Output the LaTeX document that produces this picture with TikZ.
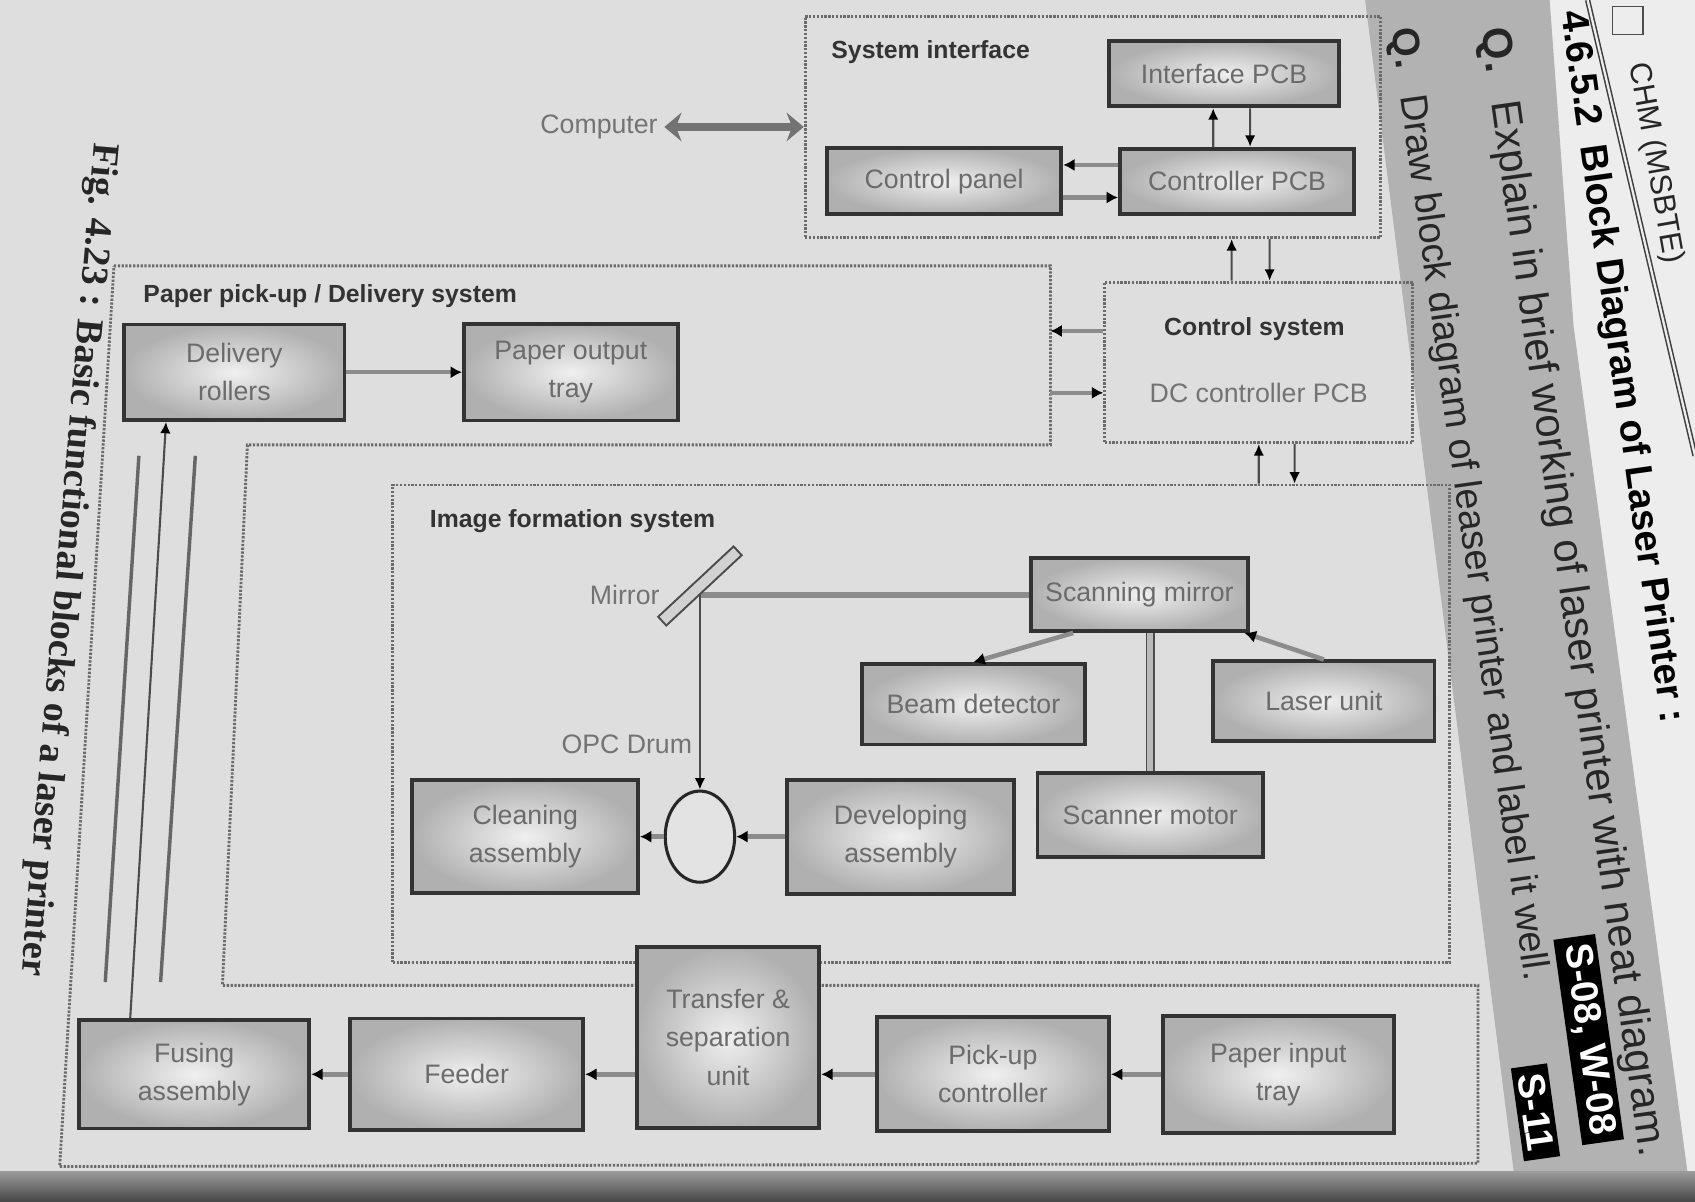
\documentclass[tikz,border=0pt]{standalone}
\usepackage{fontspec}
\setmainfont{Liberation Sans}
\newfontfamily\capfont{Liberation Serif}
\usetikzlibrary{arrows.meta,shapes.geometric,shadings}

\tikzset{
  blk/.style={draw=black!80, line width=2pt, inner color=gray!12, outer color=gray!62,
    text=black!58, align=center, font=\fontsize{14}{20}\selectfont},
  frm/.style={draw=black!58, line width=1.5pt, dash pattern=on 1.2pt off 0.8pt},
  ttl/.style={text=black!80, font=\bfseries\fontsize{13}{15}\selectfont},
  lbl/.style={text=black!55, font=\fontsize{14}{16}\selectfont},
  link/.style={draw=black!45, line width=2.4pt, -{Latex[length=6pt,width=6.5pt,color=black]}},
  sig/.style={draw=black!70, line width=1.1pt, -{Latex[length=6pt,width=5.5pt,color=black]}},
  beam/.style={draw=black!45, line width=3pt},
  shaft/.style={draw=black!70, line width=0.9pt, double=gray!55, double distance=3pt},
  bus/.style={draw=black!55, line width=4pt, {Stealth[length=9pt,width=15pt]}-{Stealth[length=9pt,width=15pt]}},
  paperline/.style={draw=black!60, line width=1.8pt},
  drm/.style={ellipse, draw=black!85, line width=1.6pt, fill=black!11, minimum width=1.28cm, minimum height=1.68cm},
  mirr/.style={draw=black!70, fill=gray!35, line width=1pt, minimum width=1.9cm, minimum height=0.22cm, inner sep=0pt},
  side/.style={text=black!85, font=\fontsize{16}{16}\selectfont},
  head/.style={text=black, font=\bfseries\fontsize{20}{20}\selectfont},
  qtext/.style={text=black!85, font=\fontsize{#1}{#1}\selectfont},
  badge/.style={fill=black, text=white, inner xsep=4pt, inner ysep=2.5pt, font=\bfseries\fontsize{20}{20}\selectfont},
  figcap/.style={text=black!85, font=\capfont\bfseries\fontsize{20}{20}\selectfont}
}

\begin{document}
\begin{tikzpicture}[x=0.2mm,y=-0.2mm]
\useasboundingbox (0,0) rectangle (1562,1107);
% page
\fill[black!13] (0,0) rectangle (1562,1107);
\fill[black!7] (1428,0) -- (1562,0) -- (1562,1080) -- (1555,1080) -- (1450,300) -- cycle;
\fill[black!30] (1258,0) -- (1428,0) -- (1450,300) -- (1555,1080) -- (1395,1080) -- cycle;
\shade[top color=black!40, bottom color=black!72] (0,1080) rectangle (1562,1107);
\draw[black!75, line width=0.8pt, double=black!7, double distance=1.2pt] (1463,0) -- (1562,420);
\draw[black!70, line width=0.8pt] (1486,6) rectangle (1514,32);

% page text
\node[side, rotate=-80, anchor=west] (chm) at (1508,52) {CHM (MSBTE)};
\node[head, rotate=-82, anchor=west] (head) at (1447,4) {4.6.5.2\hspace{0.5em}Block Diagram of Laser Printer :};
\node[qtext=22, rotate=-82, anchor=west] (q1) at (1374,20) {\textbf{Q.}\hspace{0.7em}Explain in brief working of laser printer with neat diagram.};
\node[qtext=20, rotate=-82, anchor=west] (q2) at (1290,20) {\textbf{Q.}\hspace{0.7em}Draw block diagram of leaser printer and label it well.};
\node[badge, rotate=-82] (b1) at (1464,958) {S-08, W-08};
\node[badge, rotate=-82] (b2) at (1415,1025) {S-11};
\node[figcap, rotate=-95, anchor=west] (fig) at (96,126) {Fig. 4.23 : Basic functional blocks of a laser printer};

% frames
\node[frm, minimum width=10.6cm, minimum height=4.08cm] (sysif) at (1007,117) {};
\node[frm, minimum width=5.68cm, minimum height=2.96cm] (ctrl) at (1160,334) {};
\node[frm, minimum width=19.48cm, minimum height=8.8cm] (imgf) at (849,667) {};
\draw[frm] (105,245) -- (968,245) -- (968,410) -- (228,410) -- (205,908) -- (1362,908) -- (1362,1072) -- (55,1075) -- cycle;
\coordinate (pfr) at (968,334);

\node[ttl, anchor=west] (sysif-t) at (760,48) {System interface};
\node[ttl, anchor=west] (paper-t) at (126,273) {Paper pick-up / Delivery system};
\node[ttl, anchor=west] (imgf-t) at (390,480) {Image formation system};
\node[ttl] (ctrl-t) at (1156,303) {Control system};
\node[lbl] (ctrl-s) at (1160,362) {DC controller PCB};

% system interface
\node[blk, minimum width=4.24cm, minimum height=1.2cm] (ifpcb) at (1128,68) {Interface PCB};
\node[blk, minimum width=4.32cm, minimum height=1.22cm] (cpanel) at (870,167) {Control panel};
\node[blk, minimum width=4.32cm, minimum height=1.2cm] (ctlpcb) at (1140,167) {Controller PCB};
\node[lbl] (comp) at (552,117) {Computer};

% paper path
\node[blk, minimum width=4.06cm, minimum height=1.76cm] (delrol) at (216,343) {Delivery\\rollers};
\node[blk, minimum width=3.94cm, minimum height=1.78cm] (outtray) at (526,343) {Paper output\\tray};
\node[blk, minimum width=4.24cm, minimum height=2cm] (fusing) at (179,990) {Fusing\\assembly};
\node[blk, minimum width=4.3cm, minimum height=2.06cm] (feeder) at (430,990) {Feeder};
\node[blk, minimum width=3.36cm, minimum height=3.34cm] (transfer) at (671,956) {Transfer \&\\separation\\unit};
\node[blk, minimum width=4.28cm, minimum height=2.1cm] (pickup) at (915,990) {Pick-up\\controller};
\node[blk, minimum width=4.26cm, minimum height=2.16cm] (intray) at (1178,990) {Paper input\\tray};

% image formation
\node[blk, minimum width=4cm, minimum height=1.34cm] (scmir) at (1050,548) {Scanning mirror};
\node[blk, minimum width=4.1cm, minimum height=1.48cm] (beamdet) at (897,649) {Beam detector};
\node[blk, minimum width=4.08cm, minimum height=1.46cm] (laser) at (1220,646) {Laser unit};
\node[blk, minimum width=4.16cm, minimum height=1.56cm] (scmot) at (1060,751) {Scanner motor};
\node[blk, minimum width=4.16cm, minimum height=2.08cm] (clean) at (484,771) {Cleaning\\assembly};
\node[blk, minimum width=4.18cm, minimum height=2.1cm] (devel) at (830,771) {Developing\\assembly};
\node[drm] (drum) at (645,771) {};
\coordinate (hit) at (scmir.west -| drum.north);
\node[lbl, anchor=east] (mirror-l) at (614,548) {Mirror};
\node[lbl, anchor=east] (drum-l) at (644,686) {OPC Drum};

% connectors
\draw[bus] (comp.east) -- (sysif.west);
\draw[sig] ([xshift=-4.4mm]ctlpcb.north) -- ([xshift=-2mm]ifpcb.south);
\draw[sig] ([xshift=4.8mm]ifpcb.south) -- ([xshift=2.4mm]ctlpcb.north);
\draw[link] ([yshift=3mm]ctlpcb.west) -- ([yshift=3mm]cpanel.east);
\draw[link] ([yshift=-3mm]cpanel.east) -- ([yshift=-3mm]ctlpcb.west);
\draw[sig] ([xshift=-5mm]ctrl.north) -- ([xshift=25.6mm]sysif.south);
\draw[sig] ([xshift=32.6mm]sysif.south) -- ([xshift=2mm]ctrl.north);
\draw[link] ([yshift=5.8mm]ctrl.west) -- ([yshift=5.8mm]pfr);
\draw[link] ([yshift=-5.6mm]pfr) -- ([yshift=-5.6mm]ctrl.west);
\draw[sig] ([xshift=62.2mm]imgf.north) -- (ctrl.south);
\draw[sig] ([xshift=6.6mm]ctrl.south) -- ([xshift=68.8mm]imgf.north);

\draw[link] (delrol.east) -- (outtray.west);
\draw[sig] ([xshift=-11.8mm]fusing.north) -- ([xshift=-12.6mm]delrol.south);
\draw[paperline] (128,420) -- (97,905);
\draw[paperline] (180,420) -- (148,905);
\draw[link] (intray.west) -- (pickup.east);
\draw[link] (pickup.west) -- (pickup.west -| transfer.east);
\draw[link] (transfer.west |- feeder.east) -- (feeder.east);
\draw[link] (feeder.west) -- (fusing.east);

\draw[beam] (scmir.west) -- (hit);
\draw[sig] (hit) -- (drum.north);
\node[mirr, rotate=43] (mirror) at (645,540) {};
\draw[link] (scmir.210) -- (beamdet.north);
\draw[link] (laser.north) -- (scmir.-20);
\draw[shaft] (scmot.north) -- (scmot.north |- scmir.south);
\draw[link] (devel.west) -- (drum.east);
\draw[link] (drum.west) -- (clean.east);
\end{tikzpicture}
\end{document}
